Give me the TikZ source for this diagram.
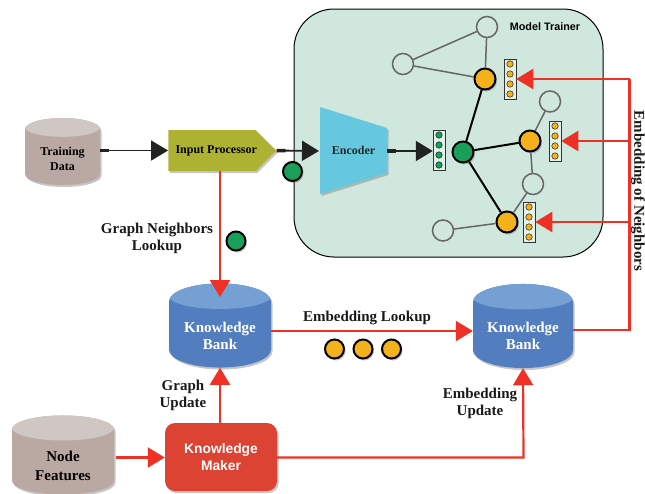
\documentclass[tikz,border=0pt]{standalone}
\usepackage{fontspec}
\setmainfont{Liberation Serif}
\setsansfont{Liberation Sans}
\usepackage{xcolor}
\usetikzlibrary{arrows.meta}
\usetikzlibrary{shadows}
\usetikzlibrary{shapes.geometric}
\usetikzlibrary{shapes.symbols}
\definecolor{tanbody}{HTML}{B9A9A2}
\definecolor{tantop}{HTML}{CFC7C4}
\definecolor{bluebody}{HTML}{527DBF}
\definecolor{bluetop}{HTML}{74A0D4}
\definecolor{trainerfill}{HTML}{CFE7DC}
\definecolor{encoderfill}{HTML}{66C8DE}
\definecolor{inputfill}{HTML}{AEB233}
\definecolor{makerfill}{HTML}{DC4332}
\definecolor{dotgreen}{HTML}{18A05A}
\definecolor{dotorange}{HTML}{F3B21B}
\definecolor{arrowred}{HTML}{EE3124}
\definecolor{arrowblack}{HTML}{222222}
\definecolor{edgegray}{HTML}{666666}
\newcommand{\bigfont}{\fontsize{15}{17}\selectfont\bfseries}
\newcommand{\midfont}{\fontsize{12}{14.5}\selectfont\bfseries}
\tikzset{softshadow/.style={drop shadow={shadow xshift=1.5pt,shadow yshift=-2pt,opacity=.45}},
 store/.style={cylinder,shape border rotate=90,aspect=.5,inner sep=0pt,anchor=shape center,
  softshadow,align=center},
 storetop/.style n args={3}{path picture={\fill[#1] ([yshift=-#3pt]path picture bounding box.north) ellipse (#2 and #3);}},
 tanstore/.style={store,fill=tanbody},
 bluestore/.style={store,fill=bluebody,text=white,font=\bigfont,storetop={bluetop}{51}{12.75}},
 textlabel/.style={align=center,font=\bigfont,text=black!90},
 bigdot/.style={circle,draw=black,line width=2pt,minimum size=19pt,inner sep=0pt,softshadow},
 opennode/.style={circle,draw=edgegray,line width=1.5pt,minimum size=21pt,inner sep=0pt},
 vecbox/.style={draw=black!80,fill=trainerfill!60,line width=.5pt,minimum width=12pt,minimum height=40pt,inner sep=0pt},
 vecdot/.style={circle,draw=black,line width=.4pt,minimum size=6.5pt,inner sep=0pt},
 blackarrow/.style={draw=arrowblack,line width=1.8pt,{Rectangle[length=9pt,width=3.5pt]}-{Triangle[length=17pt,width=20pt]}},
 redarrow/.style={draw=arrowred,line width=2.2pt,-{Triangle[length=17pt,width=20pt]}},
 graphedge/.style={draw=edgegray,line width=1.5pt},
 pathedge/.style={draw=black,line width=2pt},
 }

\begin{document}
\begin{tikzpicture}[x=1pt,y=-1pt]
        \useasboundingbox (0,0) rectangle (645,493);
        \node[rounded corners=40pt,draw=black,line width=1pt,fill=trainerfill,minimum width=309pt,minimum height=248pt] (trainer) at (448.5,133) {};
        \node[font=\sffamily\bfseries\fontsize{10.8}{13}\selectfont] (trainertitle) at (545,27) {Model Trainer};

        \node[tanstore,font=\midfont,storetop={tantop}{37.5}{9.4},minimum width=75pt,minimum height=67pt] (training) at (62.5,151.5) {\rule{0pt}{12pt}Training\\Data};
        \node[signal,signal to=east,signal pointer angle=90,fill=inputfill,minimum width=108pt,minimum height=41pt,inner sep=0pt,softshadow,font=\midfont] (input) at (212,150.5) {\makebox[83pt][l]{\hspace{5pt}Input Processor}};
        \fill[encoderfill,softshadow] (320,107) -- (387,128) -- (387,173) -- (320,194) -- cycle;
        \node[font=\midfont,text=black!85] (encoder) at (353.5,150) {Encoder};
        \node[bluestore,minimum width=102pt,minimum height=70pt] (bankleft) at (220,325.5) {\rule{0pt}{13pt}Knowledge\\Bank};
        \node[bluestore,minimum width=100pt,minimum height=70pt] (bankright) at (523,326) {\rule{0pt}{13pt}Knowledge\\Bank};
        \node[tanstore,font=\bigfont,storetop={tantop}{51}{12.5},minimum width=102pt,minimum height=70pt] (features) at (63,455) {\rule{0pt}{18pt}Node\\[2pt]Features};
        \node[rounded corners=10pt,fill=makerfill,minimum width=112pt,minimum height=68pt,text=white,align=center,font=\sffamily\bfseries\fontsize{13.8}{17}\selectfont,softshadow] (maker) at (221,457) {Knowledge\\Maker};

        % graph inside the trainer
        \node[bigdot,fill=dotgreen,minimum size=21pt] (center) at (463,152) {};
        \node[bigdot,fill=dotorange,minimum size=21pt] (hoptop) at (485,79) {};
        \node[bigdot,fill=dotorange,minimum size=21pt] (hopmid) at (530,141) {};
        \node[bigdot,fill=dotorange,minimum size=21pt] (hopbot) at (507,222) {};
        \node[opennode] (opena) at (487,27) {};
        \node[opennode] (openb) at (403,64) {};
        \node[opennode] (openc) at (550,101.5) {};
        \node[opennode] (opend) at (533,184) {};
        \node[opennode] (opene) at (443,230.5) {};
        \draw[graphedge] (openb) -- (opena);
        \draw[graphedge] (opena) -- (hoptop);
        \draw[graphedge] (openb) -- (hoptop);
        \draw[graphedge] (openc) -- (hopmid);
        \draw[graphedge] (hopmid) -- (opend);
        \draw[graphedge] (opend) -- (hopbot);
        \draw[graphedge] (opene) -- (hopbot);
        \draw[pathedge] (center) -- (hoptop);
        \draw[pathedge] (center) -- (hopmid);
        \draw[pathedge] (center) -- (hopbot);

        \foreach \vecname/\vecx/\vecy/\veccol in {vecgreen/439/150/dotgreen,vectop/510/79/dotorange,vecmid/555/141/dotorange,vecbot/529/222/dotorange}{
            \node[vecbox] (\vecname) at (\vecx,\vecy) {};
            \foreach \i in {1,2,3,4}{
                \node[vecdot,fill=\veccol] (\vecname\i) at (\vecx,\vecy-25+\i*10) {};
            }
        }

        % loose dots
        \node[bigdot,fill=dotgreen] (dotinput) at (292.5,171.5) {};
        \node[bigdot,fill=dotgreen] (dotlookup) at (236,241) {};
        \node[bigdot,fill=dotorange] (dotemba) at (334.5,349) {};
        \node[bigdot,fill=dotorange] (dotembb) at (363,349) {};
        \node[bigdot,fill=dotorange] (dotembc) at (391.5,349) {};

        % labels
        \node[textlabel] (lookuplabel) at (157,238) {Graph Neighbors\\Lookup};
        \node[textlabel] (updatelabel) at (183,395) {Graph\\Update};
        \node[textlabel] (emblabel) at (367,318) {Embedding Lookup};
        \node[textlabel] (embupdlabel) at (480,403) {Embedding\\Update};
        \node[textlabel,rotate=-90] (neighborlabel) at (638,191) {Embedding of Neighbors};

        % connectors
        \coordinate (junction) at (629.5,330);
        \coordinate (turn) at (523.5,457.5);
        \coordinate (encoderin) at (319,151);
        \coordinate (encoderout) at (387,151);
        \draw[blackarrow] (training.east |- input.west) -- (input.west);
        \draw[blackarrow] (input.east) -- (encoderin);
        \draw[blackarrow] (encoderout) -- (vecgreen.west |- encoderout);
        \coordinate (bankin) at (220,297);
        \draw[redarrow] (input.south -| bankin) -- (bankin);
        \draw[redarrow] (maker.north -| bankleft.south) -- (bankleft.south);
        \coordinate (lookuprow) at (271,331);
        \draw[redarrow] (lookuprow) -- (bankright.west |- lookuprow);
        \coordinate (featurerow) at (116,457.5);
        \draw[redarrow] (featurerow) -- (maker.west |- featurerow);
        \draw[redarrow] (maker.east |- turn) -- (turn) -- (bankright.south);
        \coordinate (toprow) at (629.5,79);
        \coordinate (midrow) at (629.5,141);
        \coordinate (botrow) at (629.5,222);
        \draw[draw=arrowred,line width=2.2pt] (bankright.east |- junction) -- (junction) -- (toprow);
        \draw[redarrow] (toprow) -- (vectop.east |- toprow);
        \draw[redarrow] (midrow) -- (vecmid.east |- midrow);
        \draw[redarrow] (botrow) -- (vecbot.east |- botrow);
    \end{tikzpicture}
\end{document}
